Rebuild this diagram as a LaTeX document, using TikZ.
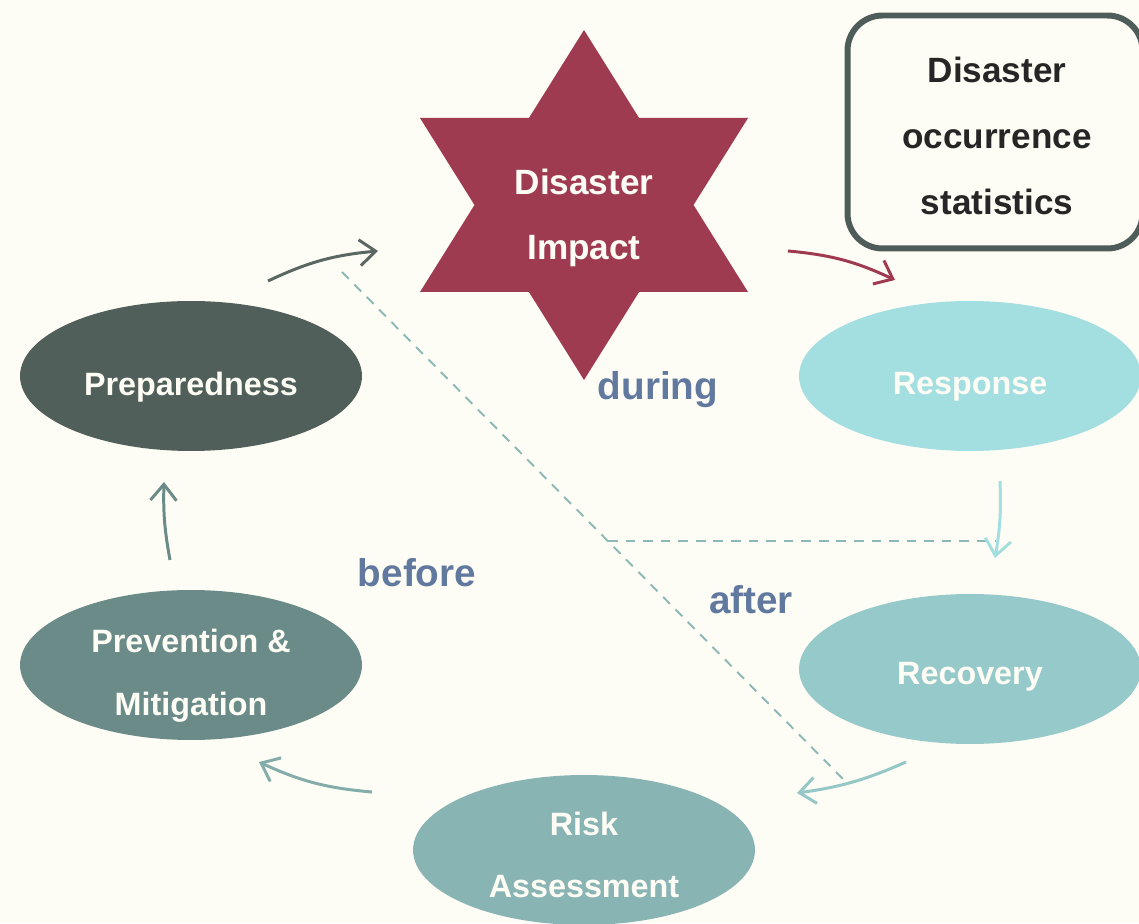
\documentclass[tikz,border=0pt]{standalone}
\usepackage{fontspec}
\setmainfont{Liberation Sans}
\usetikzlibrary{arrows.meta,shapes.geometric}
\definecolor{paper}{HTML}{FEFDF5}
\definecolor{prepcol}{HTML}{515F5B}
\definecolor{prevcol}{HTML}{6B8B89}
\definecolor{riskcol}{HTML}{89B4B4}
\definecolor{recovcol}{HTML}{96C9C9}
\definecolor{respcol}{HTML}{A3DEE0}
\definecolor{impactred}{HTML}{9E3B50}
\definecolor{timeblue}{HTML}{62799F}
\definecolor{boxline}{HTML}{4F5D5A}
\definecolor{splitgray}{HTML}{8DB8B8}
\tikzset{
  phase/.style={ellipse,fill=#1,minimum width=6.84cm,minimum height=3cm,inner sep=0pt},
  phaseText/.style={text=paper,align=center,font=\fontsize{18.4}{35.7}\selectfont\bfseries},
  impactText/.style={text=paper,align=center,font=\fontsize{20}{37.4}\selectfont\bfseries},
  statbox/.style={draw=boxline,line width=3.4pt,rounded corners=0.7cm,minimum width=5.9cm,
    minimum height=4.66cm,align=center,text=black!85,font=\fontsize{20}{37.4}\selectfont\bfseries},
  cycleArrow/.style={-{Straight Barb[length=3.2mm,width=5.2mm]},line width=1.7pt,draw=#1},
  timeLabel/.style={text=timeblue,font=\fontsize{22}{26}\selectfont\bfseries},
  splitLine/.style={draw=splitgray,line width=1.1pt,dash pattern=on 5.5pt off 4.5pt}
}
\begin{document}
\begin{tikzpicture}[x=0.02cm,y=0.02cm]
  \useasboundingbox (0,0) rectangle (1139,923);
  \fill[paper] (0,0) rectangle (1139,923);
  \clip (0,0) rectangle (1139,923);

  % before / after split
  \coordinate (splitTop) at (342,651);
  \coordinate (splitEnd) at (843,144);
  \coordinate (splitMid) at (608,382);
  \coordinate (splitRight) at (995,382);
  \draw[splitLine] (splitTop) -- (splitEnd);
  \draw[splitLine] (splitMid) -- (splitRight);

  % impact star
  \fill[impactred] (584,893) -- (748,631) -- (420,631) -- cycle;
  \fill[impactred] (584,543) -- (420,805) -- (748,805) -- cycle;
  \node[impactText] (impact) at (584,705) {Disaster\\Impact};

  \node[statbox] (stats) at (995,791) {};
  \node[impactText,text=black!85] (statsText) at (997,787) {Disaster\\occurrence\\statistics};

  % phases
  \node[phase=prepcol] (prep) at (191,547) {};
  \node[phase=prevcol] (prev) at (191,258) {};
  \node[phase=riskcol] (risk) at (584,73) {};
  \node[phase=recovcol] (recov) at (970,254) {};
  \node[phase=respcol] (resp) at (970,547) {};
  \node[phaseText] (prepText) at ([yshift=-0.22cm]prep.center) {Preparedness};
  \node[phaseText] (prevText) at ([yshift=-0.22cm]prev.center) {Prevention \&\\Mitigation};
  \node[phaseText] (riskText) at ([yshift=-0.1cm]risk.center) {Risk\\Assessment};
  \node[phaseText] (recovText) at ([yshift=-0.16cm]recov.center) {Recovery};
  \node[phaseText] (respText) at ([yshift=-0.22cm]resp.center) {Response};

  \node[timeLabel] (during) at (658,533) {during};
  \node[timeLabel] (before) at (417,350) {before};
  \node[timeLabel] (after) at (751,323) {after};

  % cycle arrows
  \coordinate (prepOut) at (268,642);
  \coordinate (impactIn) at (378,672);
  \coordinate (impactOut) at (788,672);
  \coordinate (respIn) at (895,643);
  \coordinate (respOut) at (1000,442);
  \coordinate (recovIn) at (995,365);
  \coordinate (recovOut) at (906,161);
  \coordinate (riskIn) at (797,130);
  \coordinate (riskOut) at (372,131);
  \coordinate (prevIn) at (259,161);
  \coordinate (prevOut) at (170,363);
  \coordinate (prepIn) at (164,441);
  \draw[cycleArrow=prepcol!95!white] (prepOut) to[bend left=10] (impactIn);
  \draw[cycleArrow=impactred] (impactOut) to[bend left=10] (respIn);
  \draw[cycleArrow=respcol] (respOut) to[bend left=6] (recovIn);
  \draw[cycleArrow=recovcol!90!riskcol] (recovOut) to[bend left=8] (riskIn);
  \draw[cycleArrow=riskcol!80!prevcol] (riskOut) to[bend left=10] (prevIn);
  \draw[cycleArrow=prevcol] (prevOut) to[bend left=6] (prepIn);
\end{tikzpicture}
\end{document}
